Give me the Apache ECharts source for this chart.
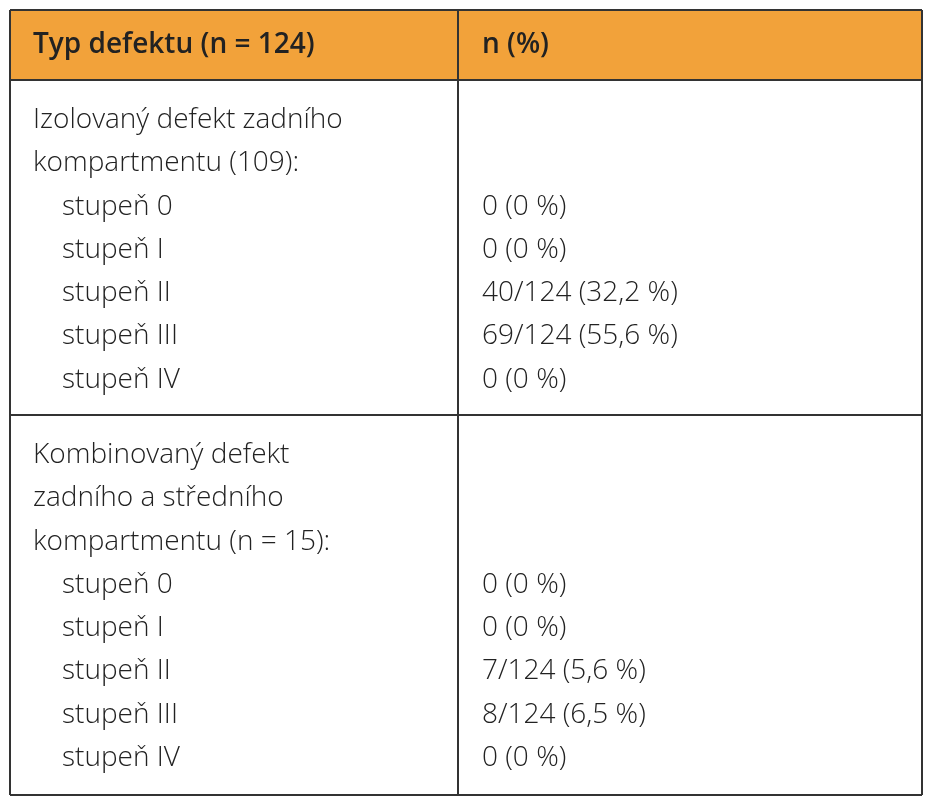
<!DOCTYPE html>
<html>
<head>
<meta charset="utf-8">
<script src="https://cdn.jsdelivr.net/npm/echarts@6/dist/echarts.min.js"></script>
<style>html,body{margin:0;padding:0;background:#fff}#main{width:952px;height:800px}</style>
</head>
<body>
<div id="main"></div>
<script>
// data
var headers = ['Typ defektu (n = 124)', 'n (%)'];
var group1Title = ['Izolovaný defekt zadního', 'kompartmentu (109):'];
var group2Title = ['Kombinovaný defekt', 'zadního a středního', 'kompartmentu (n = 15):'];
var grades = ['stupeň 0', 'stupeň I', 'stupeň II', 'stupeň III', 'stupeň IV'];
var group1Values = ['0 (0 %)', '0 (0 %)', '40/124 (32,2 %)', '69/124 (55,6 %)', '0 (0 %)'];
var group2Values = ['0 (0 %)', '0 (0 %)', '7/124 (5,6 %)', '8/124 (6,5 %)', '0 (0 %)'];

var chart = echarts.init(document.getElementById('main'));
var L = 10, R = 922, T = 10, B = 795, MID = 458, HEAD = 80, SEP = 415;
var LH = 43.3;
var font = '28px "Open Sans", "DejaVu Sans", sans-serif';
var col = '#222';
var els = [];
function txt(x, y, s, bold) {
  els.push({type: 'text', left: x, top: y - 16, style: {text: s, fill: col,
    font: (bold ? '600 ' : '300 ') + font}});
}
function line(x1, y1, x2, y2) {
  els.push({type: 'line', shape: {x1: x1, y1: y1, x2: x2, y2: y2}, style: {stroke: '#333', lineWidth: 2}});
}
els.push({type: 'rect', shape: {x: L, y: T, width: R - L, height: HEAD - T}, style: {fill: '#F2A23A'}});
txt(33, 47, headers[0], true);
txt(482, 47, headers[1], true);
// group 1
var y = 122;
group1Title.forEach(function (s) { txt(33, y, s); y += LH; });
grades.forEach(function (g, i) { txt(62, y, g); txt(482, y, group1Values[i]); y += LH; });
// group 2
y = 457;
group2Title.forEach(function (s) { txt(33, y, s); y += LH; });
grades.forEach(function (g, i) { txt(62, y, g); txt(482, y, group2Values[i]); y += LH; });
// borders
line(L, T, R, T); line(L, B, R, B); line(L, T, L, B); line(R, T, R, B);
line(MID, T, MID, B); line(L, HEAD, R, HEAD); line(L, SEP, R, SEP);
chart.setOption({animation: false, graphic: els});
</script>
</body>
</html>
